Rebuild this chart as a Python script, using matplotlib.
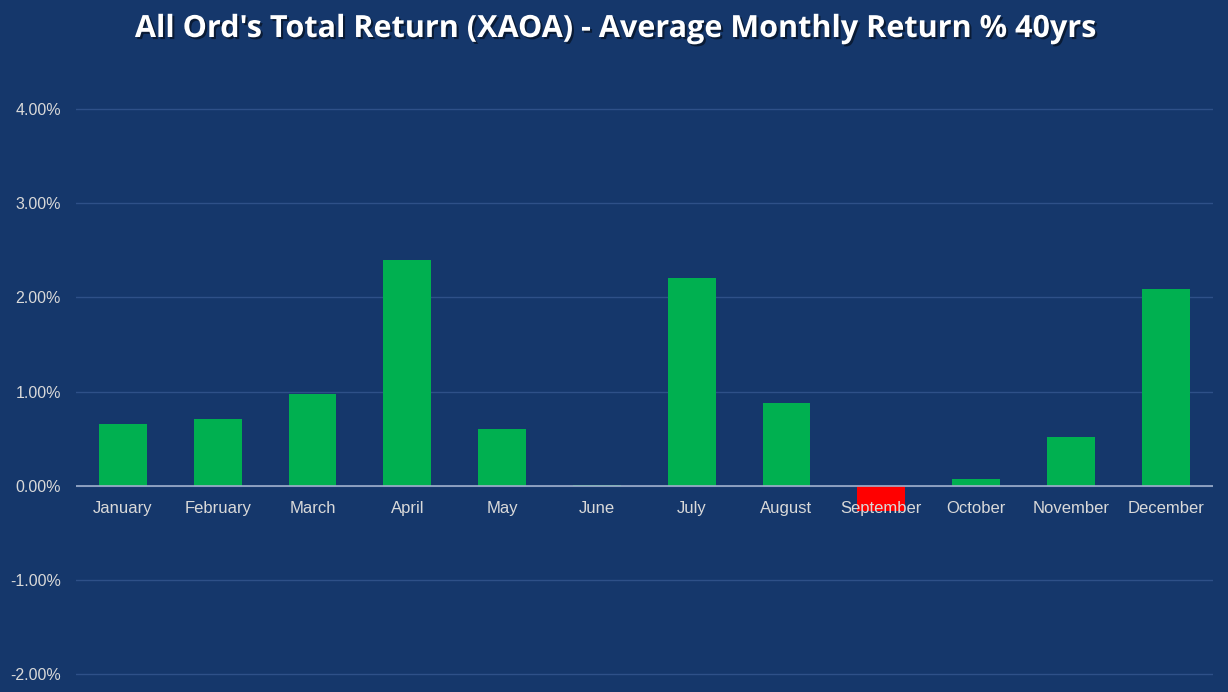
import numpy as np
import matplotlib
matplotlib.use("Agg")
import matplotlib.pyplot as plt
import matplotlib.patheffects as pe
from matplotlib.ticker import FuncFormatter
from matplotlib.transforms import offset_copy

months = ["January", "February", "March", "April", "May", "June",
          "July", "August", "September", "October", "November", "December"]
avg_return = [0.66, 0.71, 0.97, 2.40, 0.60, 0.01,
              2.21, 0.88, -0.27, 0.07, 0.52, 2.09]
y_ticks = [-2, -1, 0, 1, 2, 3, 4]

bg = "#15376b"
green = "#00b050"
red = "#ff0000"
text_col = "#d9d9d9"

plt.rcParams["font.family"] = ["Liberation Sans", "DejaVu Sans"]

fig = plt.figure(figsize=(12.28, 6.92), dpi=100, facecolor=bg)
ax = fig.add_axes([75.5 / 1228, 2 / 692, (1213 - 75.5) / 1228, (690 - 62) / 692])
ax.set_facecolor(bg)

x = np.arange(len(months))
colors = [green if v >= 0 else red for v in avg_return]
ax.bar(x, avg_return, width=0.505, color=colors, zorder=2)

ax.set_xlim(-0.5, len(months) - 0.5)
ax.set_ylim(-2.17, 4.5)
ax.set_yticks(y_ticks)
ax.yaxis.set_major_formatter(FuncFormatter(lambda v, p: f"{v:.2f}%"))
ax.set_xticks([])

ax.set_axisbelow(True)
ax.yaxis.grid(True, color="#2e5088", linewidth=1)
ax.axhline(0, color="#9fb0cc", linewidth=1.2, zorder=3)

for s in ax.spines.values():
    s.set_visible(False)
ax.tick_params(axis="y", length=0, colors=text_col, labelsize=11.5, pad=10.5)

# month labels sit just under the zero line, on top of the bars
trans = offset_copy(ax.transData, fig=fig, x=0, y=-11, units="points")
for xi, m in zip(x, months):
    ax.text(xi, 0, m, transform=trans, ha="center", va="top", color=text_col,
            fontsize=12, zorder=5)

fig.text(0.5, 1 - 29 / 692, "All Ord's Total Return (XAOA) - Average Monthly Return % 40yrs",
         ha="center", va="center", color="white", fontsize=22, fontweight="bold",
         family=["Open Sans", "DejaVu Sans"],
         path_effects=[pe.withSimplePatchShadow(offset=(1.5, -1.5), shadow_rgbFace="black", alpha=0.5)])

fig.savefig("out.png", dpi=100, facecolor=bg)
